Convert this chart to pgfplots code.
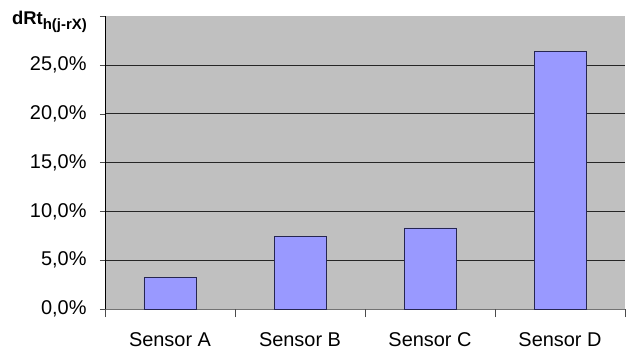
\documentclass[border=0pt]{standalone}
\usepackage{fontspec}
\setmainfont{Liberation Sans}
\usepackage{pgfplots}
\pgfplotsset{compat=1.18}

\definecolor{plotbg}{HTML}{C0C0C0}
\definecolor{barfill}{HTML}{9999FF}
\definecolor{baredge}{HTML}{262650}

\begin{document}
\begin{tikzpicture}
\path[use as bounding box] (-105bp,-42bp) rectangle (521bp,309bp);
\begin{axis}[
  scale only axis,
  width=520bp, height=293bp,
  at={(0,0)}, anchor=south west,
  ybar, bar width=52bp,
  xmin=-0.5, xmax=3.5,
  ymin=0, ymax=30,
  axis lines*=left,
  axis line style={-},
  x axis line style={draw=black!55},
  y axis line style={draw=black},
  axis background/.style={fill=plotbg},
  xtick={0,1,2,3},
  xticklabels={Sensor A,Sensor B,Sensor C,Sensor D},
  major x tick style={draw=none},
  extra x ticks={-0.5,0.5,1.5,2.5,3.5},
  extra x tick labels={},
  extra x tick style={major tick length=8bp, tick align=outside,
    major x tick style={draw=black!70}, grid=none},
  ytick={0,5,...,25},
  extra y ticks={30},
  extra y tick labels={},
  extra y tick style={grid=none},
  ymajorgrids,
  major grid style={draw=black!85, line width=0.6pt},
  tick align=outside,
  major tick length=5bp,
  tick style={draw=black!70},
  /pgf/number format/assume math mode=true,
  yticklabel={\pgfmathprintnumber[fixed,fixed zerofill,precision=1,use comma]{\tick}\%},
  tick label style={font=\fontsize{20}{22}\selectfont},
  yticklabel style={xshift=-10bp},
  xticklabel style={yshift=-15bp},
  clip=false,
]
\addplot[fill=barfill, draw=baredge, line width=0.8pt] coordinates {
  (0,3.2) (1,7.4) (2,8.3) (3,26.4)
};
\node[anchor=base east, inner sep=0pt, xshift=-18bp, yshift=-8bp, font=\bfseries]
  at (rel axis cs:0,1)
  {\fontsize{18.5}{20}\selectfont dRt\raisebox{-5bp}{\fontsize{15}{16}\selectfont h(j-rX)}};
\end{axis}
\end{tikzpicture}
\end{document}
